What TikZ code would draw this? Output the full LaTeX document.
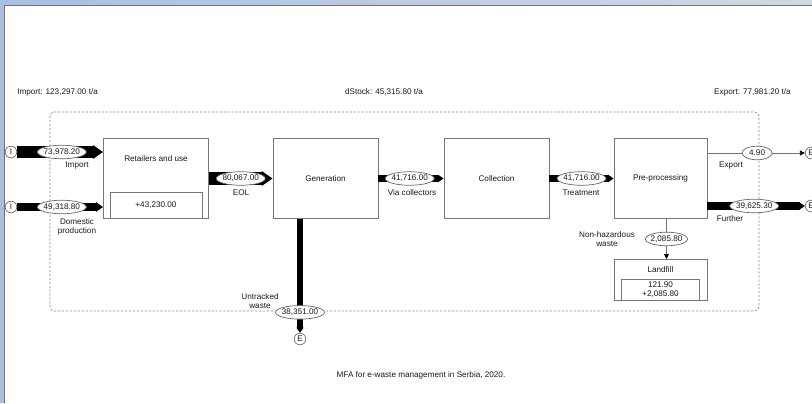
\documentclass[tikz,border=0pt]{standalone}
\usepackage{fontspec}
\setmainfont{Liberation Sans}
\usepackage{xcolor}
\usepackage{tikz}
\usetikzlibrary{shapes.geometric,arrows.meta,positioning,calc}

\definecolor{frameblue}{RGB}{170,191,224}
\definecolor{framegray}{RGB}{210,216,226}
\definecolor{boxline}{RGB}{118,118,118}

\begin{document}
\begin{tikzpicture}[
    x=0.025cm, y=-0.025cm,
    font=\fontsize{5.8}{6.4}\selectfont,
    proc/.style={rectangle, draw=boxline, fill=white, text=black!90, line width=0.6pt, minimum width=#1, minimum height=2cm, inner sep=0pt},
    stockbox/.style={rectangle, draw=boxline, text=black!90, line width=0.6pt, inner sep=0pt, align=center},
    val/.style={ellipse, draw=black!60, fill=white, text=black!90, line width=0.5pt, inner xsep=-0.6pt, inner ysep=0.7pt, text height=4.3pt, text depth=1.1pt, minimum width=0.75cm, minimum height=0.3cm},
    term/.style={circle, draw=black!55, fill=white, text=black!90, line width=0.5pt, minimum size=0.29cm, inner sep=0pt},
    lbl/.style={align=center, inner sep=0pt, text=black!90},
    flow/.style={line width=#1*0.025cm, draw=black, -{Triangle[length=0pt 0.8, width=0pt 1.05]}},
    thinflow/.style={draw=black!55, line width=0.5pt, -{Triangle[length=3.5pt, width=3.5pt, black]}},
    sysbound/.style={draw=black!45, dash pattern=on 1.6pt off 1.2pt, line width=0.5pt, rounded corners=3pt}
]
    \useasboundingbox (0,0) rectangle (812,403);

    % Window frame
    \fill[left color=frameblue, right color=framegray] (0,0) rectangle (812,5);
    \fill[frameblue] (0,0) rectangle (4,403);
    \draw[black!55, line width=0.6pt] (4.5,403) -- (4.5,5.5) -- (812,5.5);

    % System boundary
    \draw[sysbound] (50,112) rectangle (759,311);

    % Headers
    \node[lbl, anchor=west] (himp) at (17,92) {Import: 123,297.00 t/a};
    \node[lbl] (hstk) at (384,92) {dStock: 45,315.80 t/a};
    \node[lbl, anchor=east] (hexp) at (791,92) {Export: 77,981.20 t/a};

    % Processes
    \node[proc=2.625cm] (ret) at (156,178.5) {};
    \node[lbl] (rett) at (156,159) {Retailers and use};
    \node[stockbox, minimum width=2.3cm, minimum height=0.65cm, anchor=south] (retst) at (ret.south) {+43,230.00};

    \node[proc=2.625cm] (gen) at (325.5,178.5) {Generation};
    \node[proc=2.625cm] (coll) at (496.5,178.5) {Collection};
    \node[proc=2.325cm] (prep) at (660.5,178.5) {Pre-processing};

    \node[proc=2.325cm, minimum height=1.025cm, anchor=north] (land) at (660.5,259) {};
    \node[lbl] (landt) at (660.5,270) {Landfill};
    \node[stockbox, minimum width=1.95cm, minimum height=0.525cm, anchor=south] (landst) at (land.south) {121.90\\+2,085.80};

    % Sources and sinks
    \node[term] (in1) at (11,152) {I};
    \node[term] (in2) at (11,207) {I};
    \node[term] (ex1) at (811,153) {E};
    \node[term] (ex2) at (811,206) {E};
    \node[term] (ex3) at (300,339) {E};

    % Flows
    \draw[flow=12.3] (in1) -- (ret.west |- in1) node[val, pos=0.52] (vimp) {73,978.20};
    \draw[flow=8.6] (in2) -- (ret.west |- in2) node[val, pos=0.52] (vdom) {49,318.80};
    \draw[flow=13.3] (ret) -- (gen) node[val, pos=0.5] (veol) {80,067.00};
    \draw[flow=7] (gen) -- (coll) node[val, pos=0.48] (vcol) {41,716.00};
    \draw[flow=7] (coll) -- (prep) node[val, pos=0.5] (vtre) {41,716.00};
    \draw[thinflow] (prep.east |- ex1) -- (ex1) node[val, pos=0.51] (vexp) {4.90};
    \draw[flow=7.5] (prep.east |- ex2) -- (ex2) node[val, pos=0.48] (vfur) {39,625.30};
    \draw[thinflow] ([xshift=0.15cm]prep.south) -- ([xshift=0.15cm]land.north) node[val, pos=0.5] (vnh) {2,085.80};
    \draw[flow=6.6] (gen.south -| ex3) -- (ex3) node[val, pos=0.82] (vunt) {38,351.00};

    % Flow labels
    \node[lbl] (limp) at (77,166) {Import};
    \node[lbl] (ldom) at (77,226.5) {Domestic\\production};
    \node[lbl] (leol) at (241,193) {EOL};
    \node[lbl] (lcol) at (412,193) {Via collectors};
    \node[lbl] (ltre) at (581,193) {Treatment};
    \node[lbl] (lexp) at (731,166) {Export};
    \node[lbl] (lfur) at (730,219) {Further};
    \node[lbl] (lnh) at (607,239.5) {Non-hazardous\\waste};
    \node[lbl] (lunt) at (260,301) {Untracked\\waste};

    % Caption
    \node[lbl] (cap) at (421,375) {MFA for e-waste management in Serbia, 2020.};
\end{tikzpicture}
\end{document}
